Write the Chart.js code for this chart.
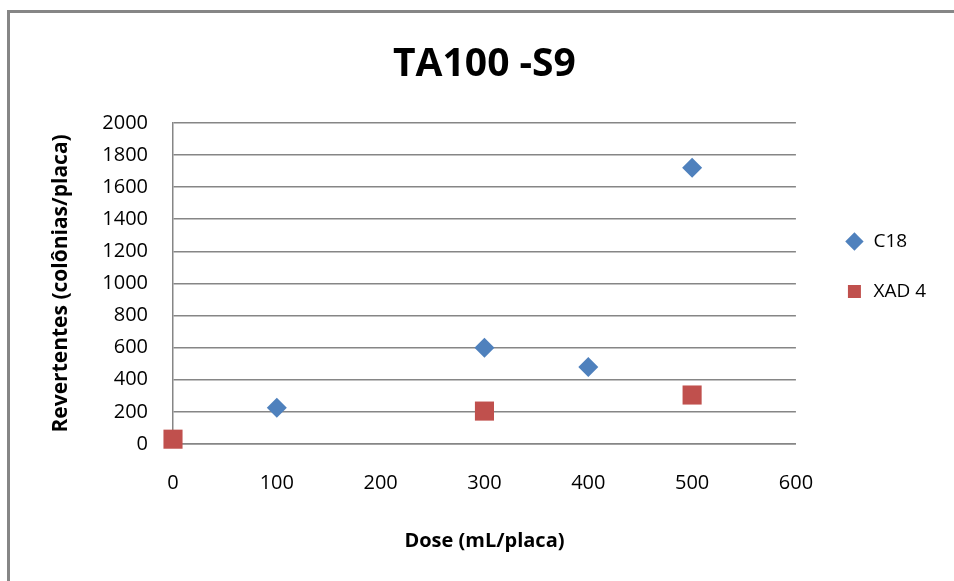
<!DOCTYPE html>
<html lang="pt">
  <head>
    <meta charset="UTF-8" />
    <title>TA100 -S9</title>
    <script src="https://cdn.jsdelivr.net/npm/chart.js"></script>
    <style>
      body { margin: 0; background: #fff; }
    </style>
  </head>
  <body>
    <canvas id="taChart" width="954" height="581"></canvas>
    <script>
      // dose (mL/placa) and revertentes (colônias/placa)
      const c18Dose = [100, 300, 400, 500];
      const c18Values = [225, 600, 480, 1720];
      const xadDose = [0, 300, 500];
      const xadValues = [30, 205, 305];

      const FONT = '"Open Sans"';

      const toPoints = (xs, ys) => xs.map((x, i) => ({ x: x, y: ys[i] }));

      // grey outer frame like the spreadsheet chart border
      const frame = {
        id: 'frame',
        beforeDraw: (chart) => {
          const ctx = chart.ctx;
          ctx.save();
          ctx.strokeStyle = '#868686';
          ctx.lineWidth = 3;
          ctx.strokeRect(8.5, 11.5, chart.width + 20, chart.height + 20);
          ctx.restore();
        },
      };

      const config = {
        type: 'scatter',
        data: {
          datasets: [
            {
              label: 'C18',
              data: toPoints(c18Dose, c18Values),
              pointStyle: 'rectRot',
              pointRadius: 10,
              pointHoverRadius: 10,
              backgroundColor: '#4F81BD',
              borderColor: '#4F81BD',
              borderWidth: 0,
              clip: false,
            },
            {
              label: 'XAD 4',
              data: toPoints(xadDose, xadValues),
              pointStyle: 'rect',
              pointRadius: 13.5,
              pointHoverRadius: 13.5,
              backgroundColor: '#C0504D',
              borderColor: '#C0504D',
              borderWidth: 0,
              clip: false,
            },
          ],
        },
        options: {
          responsive: false,
          animation: false,
          layout: { padding: { top: 0, right: 18, bottom: 0, left: 0 } },
          scales: {
            x: {
              type: 'linear',
              min: 0,
              max: 600,
              afterFit: (scale) => { scale.height = 137; },
              grid: { display: false, drawTicks: false },
              border: { display: true, color: '#868686', width: 1.5 },
              ticks: {
                stepSize: 100,
                padding: 27,
                color: '#000',
                font: { family: FONT, size: 20 },
              },
              title: {
                display: true,
                text: 'Dose (mL/placa)',
                color: '#000',
                font: { family: FONT, size: 20, weight: 'bold' },
                padding: { top: 0, bottom: 28 },
              },
            },
            y: {
              min: 0,
              max: 2000,
              afterFit: (scale) => { scale.width = 173; },
              grid: { color: '#868686', lineWidth: 1.5, drawTicks: false },
              border: { display: true, color: '#868686', width: 1.5 },
              ticks: {
                stepSize: 200,
                padding: 25,
                color: '#000',
                font: { family: FONT, size: 20 },
                callback: (v) => String(v),
              },
              title: {
                display: true,
                text: 'Revertentes (colônias/placa)',
                color: '#000',
                font: { family: FONT, size: 21, weight: 'bold' },
                padding: { top: 48, bottom: 0 },
              },
            },
            // empty spacer between the plot and the legend
            gap: {
              type: 'linear',
              position: 'right',
              display: true,
              afterFit: (scale) => { scale.width = 18; },
              grid: { display: false, drawTicks: false },
              border: { display: false },
              ticks: { display: false },
            },
          },
          plugins: {
            title: {
              display: true,
              fullSize: false,
              text: 'TA100 -S9',
              color: '#000',
              font: { family: FONT, size: 39, weight: 'bold' },
              padding: { top: 41, bottom: 35 },
            },
            legend: {
              position: 'right',
              align: 'start',
              title: {
                display: true,
                text: '',
                font: { size: 10 },
                padding: { top: 189, bottom: 0 },
              },
              labels: {
                usePointStyle: true,
                boxHeight: 13,
                padding: 31,
                color: '#000',
                font: { family: FONT, size: 19 },
              },
            },
            tooltip: { enabled: false },
          },
        },
        plugins: [frame],
      };

      new Chart(document.getElementById('taChart'), config);
    </script>
  </body>
</html>
